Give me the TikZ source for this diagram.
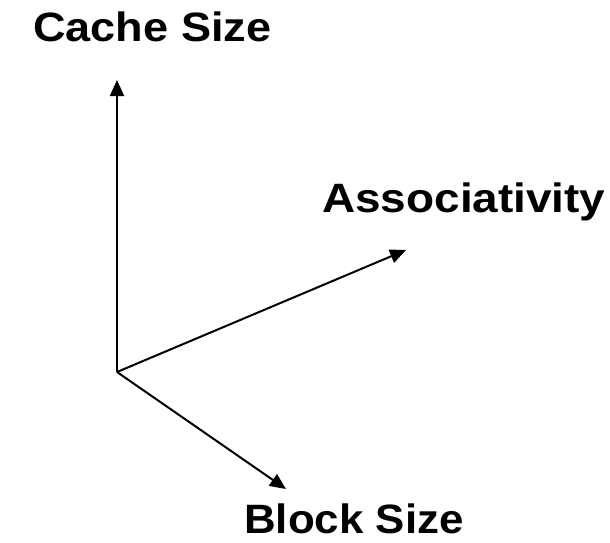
\documentclass[tikz,border=0pt]{standalone}
\usepackage{fontspec}
\setmainfont{Liberation Sans}
\usetikzlibrary{arrows.meta}
\tikzset{
  axis/.style={line width=2pt, -{Triangle[length=16pt,width=14pt]}},
  axislabel/.style={inner sep=0pt, font=\bfseries\fontsize{41}{49}\selectfont}
}
\newcommand{\widetext}[2]{\scalebox{#1}[1]{#2}}
\begin{document}
\begin{tikzpicture}[x=1pt,y=-1pt]
  \useasboundingbox (0,0) rectangle (610,542);
  \coordinate (o) at (117,372);
  \coordinate (cs) at (117,80);
  \coordinate (as) at (406,250);
  \coordinate (bs) at (286,489);
  \draw[axis] (o) -- (cs);
  \draw[axis] (o) -- (as);
  \draw[axis] (o) -- (bs);
  \node[axislabel, anchor=base west] (lcs) at (33,41) {\widetext{1.1}{Cache Size}};
  \node[axislabel, anchor=base west] (las) at (322,212) {\widetext{1.12}{Associativity}};
  \node[axislabel, anchor=base west] (lbs) at (244,533) {\widetext{1.07}{Block Size}};
\end{tikzpicture}
\end{document}
